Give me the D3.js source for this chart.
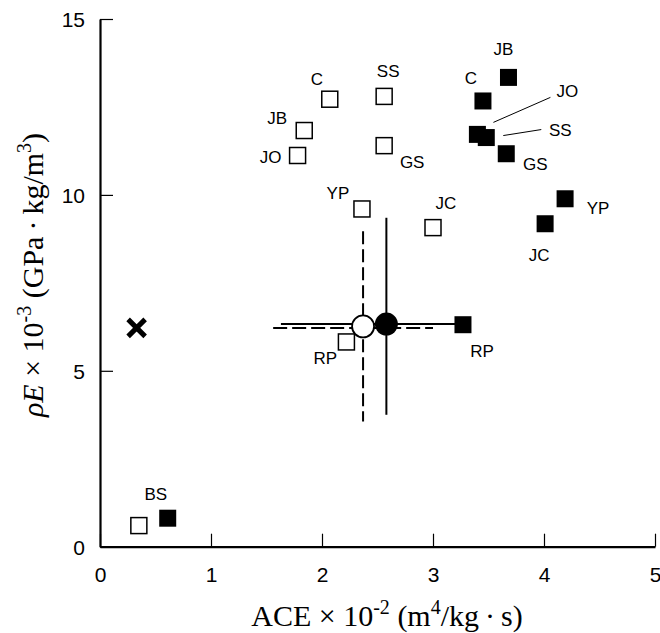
<!DOCTYPE html>
<html>
<head>
<meta charset="utf-8">
<script src="https://cdn.jsdelivr.net/npm/d3@7"></script>
<style>
  body { margin: 0; background: #fff; }
  svg { display: block; }
</style>
</head>
<body>
<div id="chart"></div>
<script>
const width = 660;
const height = 633;

// open squares
const openLabels = ["C", "SS", "JB", "JO", "GS", "YP", "JC", "RP", "BS"];
const openX = [2.07, 2.56, 1.84, 1.78, 2.56, 2.36, 3.00, 2.22, 0.35];
const openY = [12.72, 12.80, 11.83, 11.12, 11.40, 9.60, 9.07, 5.82, 0.60];

// filled squares
const filledLabels = ["JB", "C", "JO", "SS", "GS", "YP", "JC", "RP", ""];
const filledX = [3.68, 3.45, 3.40, 3.48, 3.66, 4.19, 4.01, 3.27, 0.61];
const filledY = [13.34, 12.67, 11.72, 11.63, 11.17, 9.89, 9.18, 6.31, 0.81];

// means with ranges
const openMean = [2.37, 6.26];
const openRangeX = [1.56, 3.00];
const openRangeY = [3.56, 8.97];
const filledMean = [2.58, 6.33];
const filledRangeX = [1.63, 3.22];
const filledRangeY = [3.75, 9.35];

// cross marker
const crossPoint = [0.33, 6.22];

const xTicks = [0, 1, 2, 3, 4, 5];
const yTicks = [0, 5, 10, 15];

// label offsets in px (dx, dy of text centre from square centre)
const openOffsets = {
  C: [-13, -20], SS: [4, -26], JB: [-27, -13], JO: [-27, 1], GS: [28, 16],
  YP: [-24, -16], JC: [13, -25], RP: [-21, 16], BS: [17, -32]
};
const filledOffsets = {
  JB: [-5, -29], C: [-12, -23], JO: [90, -44], SS: [74, -8], GS: [29, 10],
  YP: [33, 9], JC: [-6, 31], RP: [19, 26]
};
// leader lines [x1, y1, x2, y2] relative to square centre
const leaders = { JO: [73, -37, 16, -12], SS: [55, -8, 17, -2] };

const svg = d3.select("#chart").append("svg")
  .attr("width", width).attr("height", height);

const x = d3.scaleLinear().domain([0, 5]).range([100, 655]);
const y = d3.scaleLinear().domain([0, 15]).range([546.7, 19]);

// axes, ticks point inward
const gx = svg.append("g")
  .attr("transform", `translate(0, ${y(0)})`)
  .call(d3.axisBottom(x).tickValues(xTicks).tickFormat(d3.format("d"))
    .tickSizeInner(-13).tickSizeOuter(0).tickPadding(20));
const gy = svg.append("g")
  .attr("transform", `translate(${x(0)}, 0)`)
  .call(d3.axisLeft(y).tickValues(yTicks).tickFormat(d3.format("d"))
    .tickSizeInner(-13).tickSizeOuter(0).tickPadding(15));

[gx, gy].forEach(g => {
  g.select(".domain").attr("stroke", "#000").attr("stroke-width", 2.2);
  g.selectAll(".tick line").attr("stroke", "#000").attr("stroke-width", 1.2);
  g.selectAll(".tick text")
    .attr("fill", "#000")
    .attr("font-family", "Liberation Sans, Arial, sans-serif")
    .attr("font-size", 21);
});
gy.selectAll(".tick text").attr("dy", "0.36em");

// axis titles
const serif = "Liberation Serif, Times New Roman, serif";
const xTitle = svg.append("text")
  .attr("x", 387).attr("y", 626)
  .attr("text-anchor", "middle")
  .attr("font-family", serif)
  .attr("font-size", 30);
xTitle.append("tspan").text("ACE \u00D7 10");
xTitle.append("tspan").text("-2").attr("font-size", 20).attr("dy", -12);
xTitle.append("tspan").text(" (m").attr("dy", 12);
xTitle.append("tspan").text("4").attr("font-size", 20).attr("dy", -12);
xTitle.append("tspan").text("/kg\u2009\u00B7\u2009s)").attr("dy", 12);

const yTitle = svg.append("text")
  .attr("transform", "translate(43, 275) rotate(-90)")
  .attr("text-anchor", "middle")
  .attr("font-family", serif)
  .attr("font-size", 30);
yTitle.append("tspan").text("\u03C1E").attr("font-style", "italic");
yTitle.append("tspan").text(" \u00D7 10");
yTitle.append("tspan").text("-3").attr("font-size", 20).attr("dy", -12);
yTitle.append("tspan").text(" (GPa\u2009\u00B7\u2009kg/m").attr("dy", 12);
yTitle.append("tspan").text("3").attr("font-size", 20).attr("dy", -12);
yTitle.append("tspan").text(")").attr("dy", 12);

// range lines
const lines = svg.append("g").attr("stroke", "#000").attr("fill", "none");
lines.append("line")
  .attr("x1", x(filledMean[0])).attr("x2", x(filledMean[0]))
  .attr("y1", y(filledRangeY[0])).attr("y2", y(filledRangeY[1]))
  .attr("stroke-width", 2);
lines.append("line")
  .attr("x1", x(filledRangeX[0])).attr("x2", x(filledRangeX[1]))
  .attr("y1", y(filledMean[1])).attr("y2", y(filledMean[1]))
  .attr("stroke-width", 2);
lines.append("line")
  .attr("x1", x(openMean[0])).attr("x2", x(openMean[0]))
  .attr("y1", y(openRangeY[1])).attr("y2", y(openRangeY[0]))
  .attr("stroke-width", 2).attr("stroke-dasharray", "13,5");
lines.append("line")
  .attr("x1", x(openRangeX[0])).attr("x2", x(openRangeX[1]))
  .attr("y1", y(openMean[1]) + 1.5).attr("y2", y(openMean[1]) + 1.5)
  .attr("stroke-width", 2).attr("stroke-dasharray", "14,5");

// open squares
const sq = 16;
svg.append("g").selectAll("rect")
  .data(openX)
  .join("rect")
  .attr("x", (d, i) => x(d) - sq / 2)
  .attr("y", (d, i) => y(openY[i]) - sq / 2)
  .attr("width", sq).attr("height", sq)
  .attr("fill", "#fff").attr("stroke", "#000").attr("stroke-width", 1.5);

// filled squares
const fq = 17;
svg.append("g").selectAll("rect")
  .data(filledX)
  .join("rect")
  .attr("x", (d, i) => x(d) - fq / 2)
  .attr("y", (d, i) => y(filledY[i]) - fq / 2)
  .attr("width", fq).attr("height", fq)
  .attr("fill", "#000");

// means
svg.append("circle")
  .attr("cx", x(openMean[0])).attr("cy", y(openMean[1])).attr("r", 11)
  .attr("fill", "#fff").attr("stroke", "#000").attr("stroke-width", 1.8);
svg.append("circle")
  .attr("cx", x(filledMean[0])).attr("cy", y(filledMean[1])).attr("r", 11.5)
  .attr("fill", "#000");

// cross
const cx = x(crossPoint[0]), cy = y(crossPoint[1]), arm = 8.5;
svg.append("path")
  .attr("d", `M${cx - arm},${cy - arm}L${cx + arm},${cy + arm}M${cx - arm},${cy + arm}L${cx + arm},${cy - arm}`)
  .attr("stroke", "#000").attr("stroke-width", 5);

// labels
const labelFont = "Liberation Sans, Arial, sans-serif";
svg.append("g").selectAll("text")
  .data(openLabels)
  .join("text")
  .attr("x", (d, i) => x(openX[i]) + openOffsets[d][0])
  .attr("y", (d, i) => y(openY[i]) + openOffsets[d][1])
  .attr("dy", "0.36em")
  .attr("text-anchor", "middle")
  .attr("font-family", labelFont).attr("font-size", 17)
  .text(d => d);

const filledIdx = filledLabels.map((d, i) => i).filter(i => filledLabels[i] !== "");
svg.append("g").selectAll("text")
  .data(filledIdx)
  .join("text")
  .attr("x", i => x(filledX[i]) + filledOffsets[filledLabels[i]][0])
  .attr("y", i => y(filledY[i]) + filledOffsets[filledLabels[i]][1])
  .attr("dy", "0.36em")
  .attr("text-anchor", "middle")
  .attr("font-family", labelFont).attr("font-size", 17)
  .text(i => filledLabels[i]);

svg.append("g").selectAll("line")
  .data(Object.keys(leaders))
  .join("line")
  .attr("x1", d => x(filledX[filledLabels.indexOf(d)]) + leaders[d][0])
  .attr("y1", d => y(filledY[filledLabels.indexOf(d)]) + leaders[d][1])
  .attr("x2", d => x(filledX[filledLabels.indexOf(d)]) + leaders[d][2])
  .attr("y2", d => y(filledY[filledLabels.indexOf(d)]) + leaders[d][3])
  .attr("stroke", "#000").attr("stroke-width", 1);
</script>
</body>
</html>
